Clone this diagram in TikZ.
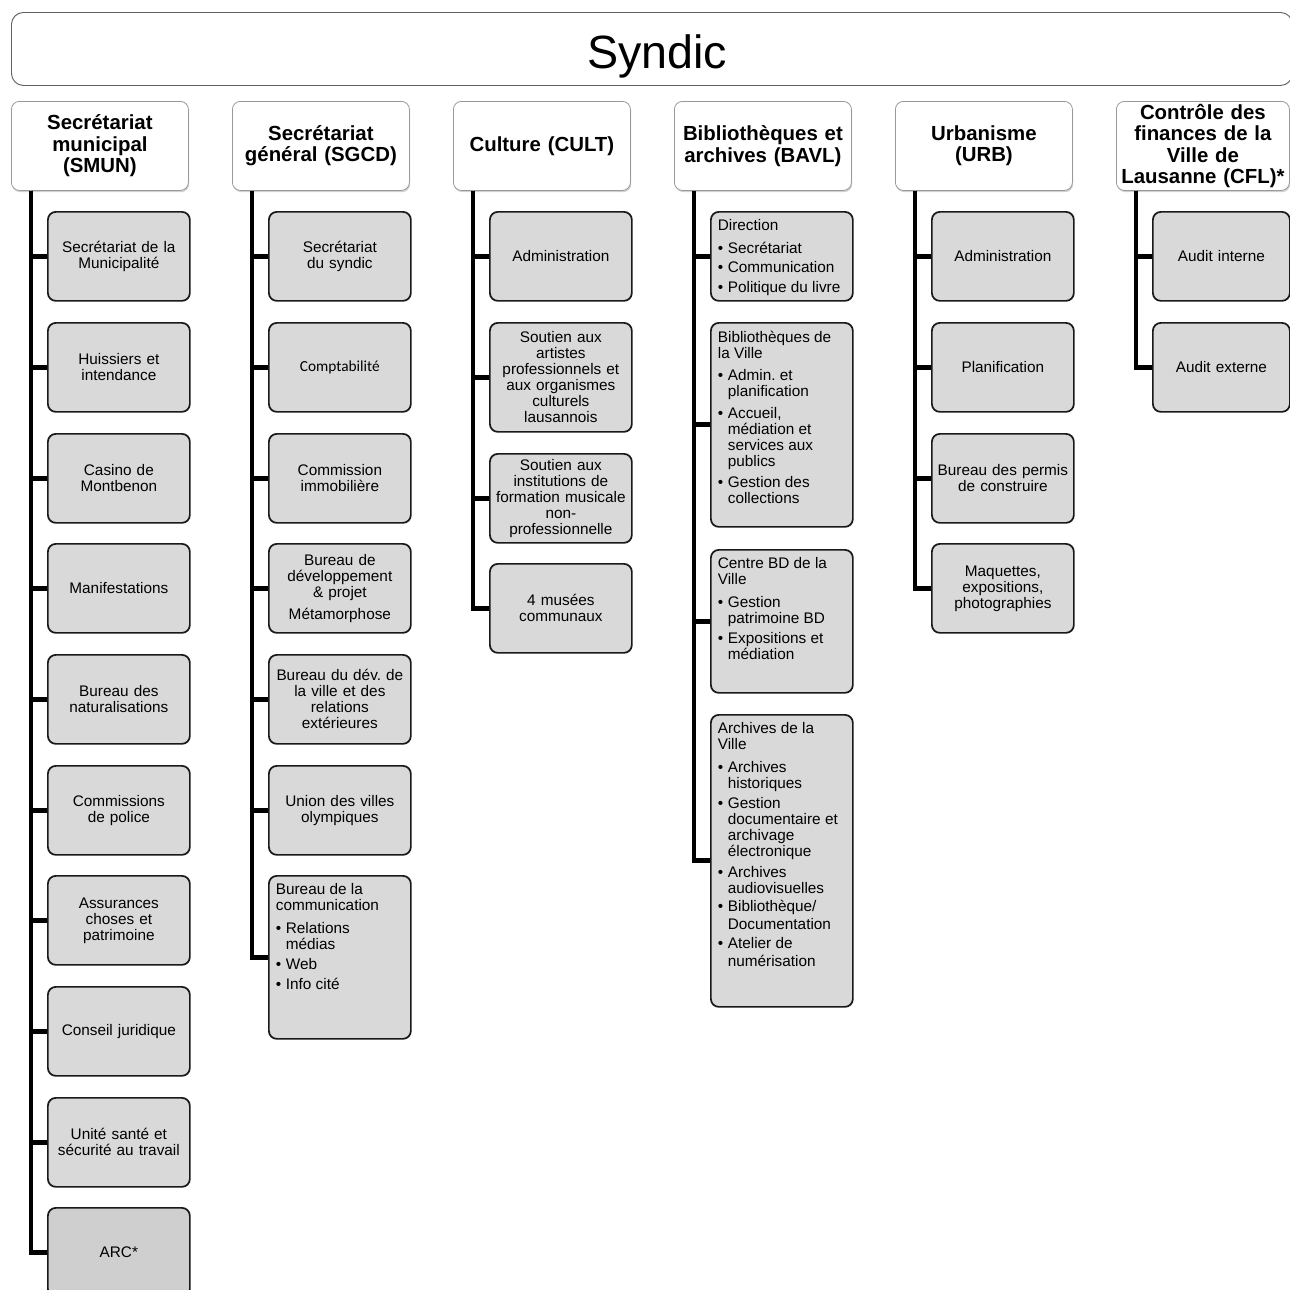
\documentclass[tikz,border=0pt]{standalone}
\usepackage{fontspec}
\setmainfont{Liberation Sans}
\newfontfamily\carl{Carlito}
\usetikzlibrary{shadows}
\frenchspacing
\newcommand\cfont{\fontsize{11.5pt}{12pt}\selectfont}
\newcommand\hfont{\bfseries\fontsize{15.3pt}{16.1pt}\selectfont}
\newcommand\bul{\makebox[7.5pt][l]{•}}
\newcommand\ind{\hspace*{7.5pt}}
\newcommand\lbox[2]{\parbox[c][#1][t]{106.5pt}{\frenchspacing\raggedright\leftskip=5.25pt\vspace*{6pt}#2}}
\tikzset{
  syn/.style={draw=black!62, line width=0.7pt, rounded corners=9pt, fill=white,
    anchor=north west, minimum width=960.75pt, minimum height=54.75pt, inner sep=0pt,
    font=\fontsize{35pt}{40pt}\selectfont},
  head/.style={draw=black!40, line width=0.6pt, fill=white, rounded corners=6pt,
    anchor=north west, minimum width=132.75pt, minimum height=66.75pt, text width=128pt,
    align=center, inner sep=0pt, font=\hfont,
    drop shadow={shadow xshift=0.6pt, shadow yshift=-1.3pt, fill=black!30, opacity=0.6}},
  box/.style={draw=black!90, line width=1.3pt, fill=black!15, rounded corners=6pt,
    anchor=north west, minimum width=106.5pt, minimum height=66.75pt, text width=106.5pt,
    align=center, inner sep=0pt, font=\cfont},
  lbx/.style={draw=black!90, line width=1.3pt, fill=black!15, rounded corners=6pt,
    anchor=north west, inner sep=0pt, font=\cfont},
  conn/.style={line width=3.7pt}
}
\begin{document}
\begin{tikzpicture}[x=0.75pt,y=-0.75pt]
\useasboundingbox (0,0) rectangle (1290,1290);
% top
\node[syn] (syndic) at (11,12) {\hspace*{8pt}\raisebox{-5.5pt}[\height][\depth]{Syndic}};
% headers
\node[head] (h1) at (11,101) {Secrétariat\\municipal\\(SMUN)};
\node[head] (h2) at (232,101) {Secrétariat\\général (SGCD)};
\node[head] (h3) at (453,101) {Culture (CULT)};
\node[head] (h4) at (674,101) {Bibliothèques et\\archives (BAVL)};
\node[head] (h5) at (895,101) {Urbanisme\\(URB)};
\node[head, minimum width=129.75pt, text width=129.75pt] (h6) at (1116,101) {Contrôle des\\finances de la\\Ville de\\Lausanne (CFL)*};
% column 1
\node[box] (a1) at (47,211) {Secrétariat de la\\Municipalité};
\node[box] (a2) at (47,322) {Huissiers et\\intendance};
\node[box] (a3) at (47,433) {Casino de\\Montbenon};
\node[box] (a4) at (47,543) {Manifestations};
\node[box] (a5) at (47,654) {Bureau des\\naturalisations};
\node[box] (a6) at (47,765) {Commissions\\de police};
\node[box] (a7) at (47,875) {Assurances\\choses et\\patrimoine};
\node[box] (a8) at (47,986) {Conseil juridique};
\node[box] (a9) at (47,1097) {Unité santé et\\sécurité au travail};
\node[box, fill=black!19] (a10) at (47,1207) {ARC*};
% column 2
\node[box] (b1) at (268,211) {Secrétariat\\du syndic};
\node[box, font=\carl\cfont] (b2) at (268,322) {Comptabilité};
\node[box] (b3) at (268,433) {Commission\\immobilière};
\node[box] (b4) at (268,543) {Bureau de\\développement\\\& projet\\[5pt]Métamorphose};
\node[box] (b5) at (268,654) {Bureau du dév. de\\la ville et des\\relations\\extérieures};
\node[box] (b6) at (268,765) {Union des villes\\olympiques};
\node[lbx] (b7) at (268,875) {\lbox{122.25pt}{Bureau de la\\communication\\[5pt]\bul Relations\\\ind médias\\[3pt]\bul Web\\[3pt]\bul Info cité}};
% column 3
\node[box] (c1) at (489,211) {Administration};
\node[box, minimum height=81.75pt] (c2) at (489,322) {Soutien aux\\artistes\\professionnels et\\aux organismes\\culturels\\lausannois};
\node[box] (c3) at (489,453) {Soutien aux\\institutions de\\formation musicale\\non-\\professionnelle};
\node[box] (c4) at (489,563) {4 musées\\communaux};
% column 4
\node[lbx] (d1) at (710,211) {\lbox{66.75pt}{Direction\\[5pt]\bul Secrétariat\\[2pt]\bul Communication\\[3pt]\bul Politique du livre}};
\node[lbx] (d2) at (710,322) {\lbox{153pt}{Bibliothèques de\\la Ville\\[4.5pt]\bul Admin. et\\\ind planification\\[4.5pt]\bul Accueil,\\\ind médiation et\\\ind services aux\\\ind publics\\[4pt]\bul Gestion des\\\ind collections}};
\node[lbx] (d3) at (710,549) {\lbox{107.25pt}{Centre BD de la\\Ville\\[5pt]\bul Gestion\\\ind patrimoine BD\\[3pt]\bul Expositions et\\\ind médiation}};
\node[lbx] (d4) at (710,714) {\lbox{219pt}{Archives de la\\Ville\\[5pt]\bul Archives\\\ind historiques\\[3pt]\bul Gestion\\\ind documentaire et\\\ind archivage\\\ind électronique\\[3.5pt]\bul Archives\\\ind audiovisuelles\\[2pt]\bul Bibliothèque/\\[1.5pt]\ind Documentation\\[2pt]\bul Atelier de\\[1.5pt]\ind numérisation}};
% column 5
\node[box] (e1) at (931,211) {Administration};
\node[box] (e2) at (931,322) {Planification};
\node[box] (e3) at (931,433) {Bureau des permis\\de construire};
\node[box] (e4) at (931,543) {Maquettes,\\expositions,\\photographies};
% column 6
\node[box, minimum width=102.75pt, text width=102.75pt] (f1) at (1152,211) {Audit interne};
\node[box, minimum width=102.75pt, text width=102.75pt] (f2) at (1152,322) {Audit externe};
% connectors
\foreach \i in {1,...,10} \draw[conn] ([xshift=15pt]h1.south west) |- (a\i.west);
\foreach \i in {1,...,7} \draw[conn] ([xshift=15pt]h2.south west) |- (b\i.west);
\foreach \i in {1,...,4} \draw[conn] ([xshift=15pt]h3.south west) |- (c\i.west);
\foreach \i in {1,...,4} \draw[conn] ([xshift=15pt]h4.south west) |- (d\i.west);
\foreach \i in {1,...,4} \draw[conn] ([xshift=15pt]h5.south west) |- (e\i.west);
\foreach \i in {1,2} \draw[conn] ([xshift=15pt]h6.south west) |- (f\i.west);
\end{tikzpicture}
\end{document}
